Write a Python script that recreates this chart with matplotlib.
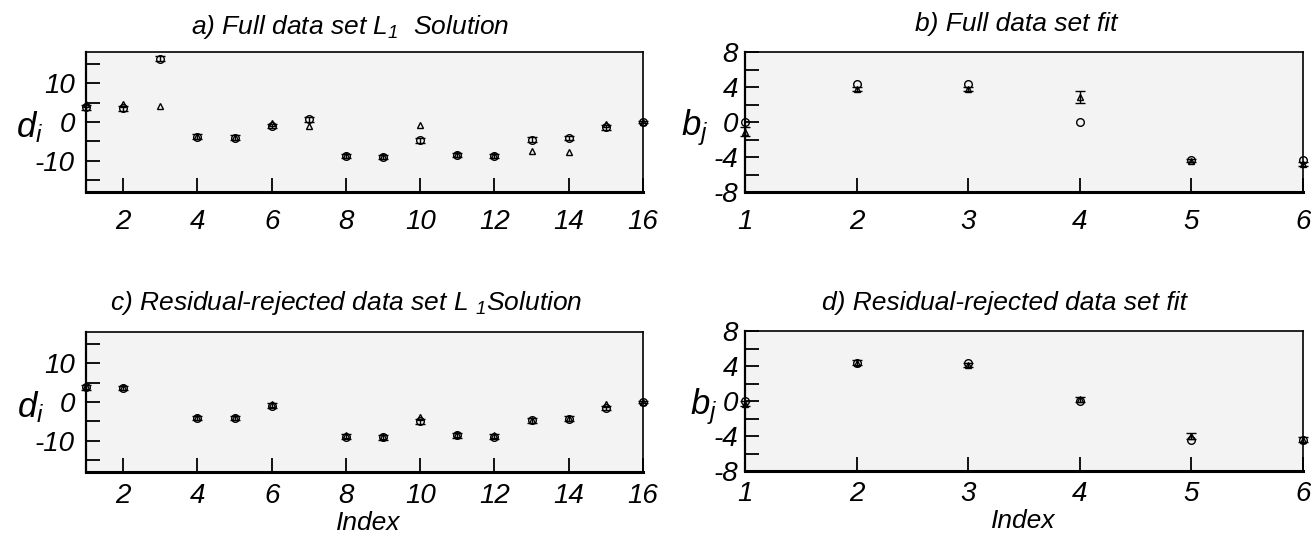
import matplotlib
matplotlib.use("Agg")
import matplotlib.pyplot as plt

# ---- data ----
idx_d = [1, 2, 3, 4, 5, 6, 7, 8, 9, 10, 11, 12, 13, 14, 15, 16]
a_circ = [3.8, 3.5, 16.3, -3.8, -4.0, -1.0, 0.7, -8.7, -9.0, -4.7, -8.5, -8.7, -4.5, -4.1, -1.4, 0.0]
a_circ_err = [0.6, 0.6, 0.6, 0.6, 0.6, 0.6, 0.6, 0.6, 0.6, 0.6, 0.6, 0.6, 0.6, 0.6, 0.6, 0.3]
a_tri = [4.6, 4.7, 4.0, -3.5, -3.8, -0.3, -1.0, -8.4, -8.8, -0.8, -8.2, -8.5, -7.4, -7.7, -0.6, 0.0]

idx_c = [1, 2, 4, 5, 6, 8, 9, 10, 11, 12, 13, 14, 15, 16]
c_circ = [3.8, 3.6, -4.1, -4.1, -0.9, -8.9, -9.1, -5.0, -8.6, -8.9, -4.7, -4.3, -1.5, 0.0]
c_circ_err = [0.6, 0.6, 0.6, 0.6, 0.6, 0.6, 0.6, 0.6, 0.6, 0.6, 0.6, 0.6, 0.6, 0.3]
c_tri = [4.2, 3.9, -3.8, -3.8, -0.6, -8.6, -8.8, -3.9, -8.2, -8.6, -4.5, -4.0, -0.5, 0.0]

idx_b = [1, 2, 3, 4, 5, 6]
b_circ = [0.0, 4.4, 4.4, 0.0, -4.3, -4.3]
b_tri = [-1.1, 3.8, 3.8, 2.9, -4.4, -4.8]
b_tri_err = [0.5, 0.2, 0.2, 0.7, 0.15, 0.2]

d_circ = [0.0, 4.3, 4.3, 0.0, -4.4, -4.4]
d_tri = [-0.3, 4.4, 4.1, 0.2, -4.0, -4.4]
d_tri_err = [0.3, 0.3, 0.25, 0.3, 0.3, 0.25]

plt.rcParams["font.family"] = ["Liberation Sans", "DejaVu Sans"]
plt.rcParams["font.style"] = "italic"
plt.rcParams["mathtext.fontset"] = "custom"
plt.rcParams["mathtext.it"] = "Liberation Sans:italic"
plt.rcParams["mathtext.rm"] = "Liberation Sans:italic"
plt.rcParams["mathtext.default"] = "it"
plt.rcParams["axes.unicode_minus"] = False

W, H = 1311, 537
fig = plt.figure(figsize=(W / 100, H / 100), dpi=100)


def px_axes(left, top, right, bottom):
    return fig.add_axes([left / W, 1 - bottom / H, (right - left) / W, (bottom - top) / H])


ax_a = px_axes(86, 52, 643, 192)
ax_b = px_axes(745, 52, 1303, 192)
ax_c = px_axes(86, 332, 643, 472)
ax_d = px_axes(745, 331, 1303, 471)

mk = dict(linestyle="none", color="black", mfc="none", mec="black", mew=1.0,
          elinewidth=1.0, capsize=3.5, capthick=1.2, clip_on=False, zorder=3)


def style(ax, xpad, ypad):
    ax.set_facecolor("#f3f3f3")
    for s in ["top", "right"]:
        ax.spines[s].set_linewidth(1.2)
    ax.spines["left"].set_linewidth(1.6)
    ax.spines["bottom"].set_linewidth(2.2)
    ax.tick_params(direction="in", length=10, width=1.3, labelsize=20,
                   top=False, right=False)
    ax.tick_params(axis="x", pad=xpad)
    ax.tick_params(axis="y", pad=ypad)


# a) full data set L1
ax_a.errorbar(idx_d, a_circ, yerr=a_circ_err, fmt="o", ms=5.5, **mk)
ax_a.errorbar(idx_d, a_tri, fmt="^", ms=4.5, **mk)
ax_a.set_xlim(1, 16)
ax_a.set_ylim(-18, 18)
ax_a.set_xticks([2, 4, 6, 8, 10, 12, 14, 16])
ax_a.set_yticks([-15, -10, -5, 0, 5, 10, 15])
ax_a.set_yticklabels(["", "-10", "", "0", "", "10", ""])
style(ax_a, 12.5, 8)
ax_a.text(0.474, 1.18, "a) Full data set L$_1$  Solution", transform=ax_a.transAxes,
          ha="center", va="center", fontsize=19)
ax_a.text(-0.102, 0.46, "$d_i$", transform=ax_a.transAxes, ha="center", va="center", fontsize=25)

# b) full data set fit
ax_b.errorbar(idx_b, b_circ, fmt="o", ms=5.5, **mk)
ax_b.errorbar(idx_b, b_tri, yerr=b_tri_err, fmt="^", ms=4.5, **mk)
ax_b.set_xlim(1, 6)
ax_b.set_ylim(-8, 8)
ax_b.set_xticks(idx_b)
ax_b.set_yticks([-8, -6, -4, -2, 0, 2, 4, 6, 8])
ax_b.set_yticklabels(["-8", "", "-4", "", "0", "", "4", "", "8"])
style(ax_b, 12.5, 5)
ax_b.text(0.486, 1.20, "b) Full data set fit", transform=ax_b.transAxes,
          ha="center", va="center", fontsize=19)
ax_b.text(-0.09, 0.46, "$b_j$", transform=ax_b.transAxes, ha="center", va="center", fontsize=25)

# c) residual-rejected L1
ax_c.errorbar(idx_c, c_circ, yerr=c_circ_err, fmt="o", ms=5.5, **mk)
ax_c.errorbar(idx_c, c_tri, fmt="^", ms=4.5, **mk)
ax_c.set_xlim(1, 16)
ax_c.set_ylim(-18, 18)
ax_c.set_xticks([2, 4, 6, 8, 10, 12, 14, 16])
ax_c.set_yticks([-15, -10, -5, 0, 5, 10, 15])
ax_c.set_yticklabels(["", "-10", "", "0", "", "10", ""])
style(ax_c, 8, 8)
ax_c.text(0.468, 1.207, "c) Residual-rejected data set L ${}_1$Solution", transform=ax_c.transAxes,
          ha="center", va="center", fontsize=19)
ax_c.text(-0.10, 0.46, "$d_i$", transform=ax_c.transAxes, ha="center", va="center", fontsize=25)
ax_c.text(0.506, -0.45, "Index", transform=ax_c.transAxes, ha="center", va="bottom", fontsize=19)

# d) residual-rejected fit
ax_d.errorbar(idx_b, d_circ, fmt="o", ms=5.5, **mk)
ax_d.errorbar(idx_b, d_tri, yerr=d_tri_err, fmt="^", ms=4.5, **mk)
ax_d.set_xlim(1, 6)
ax_d.set_ylim(-8, 8)
ax_d.set_xticks(idx_b)
ax_d.set_yticks([-8, -6, -4, -2, 0, 2, 4, 6, 8])
ax_d.set_yticklabels(["-8", "", "-4", "", "0", "", "4", "", "8"])
style(ax_d, 7, 5)
ax_d.text(0.465, 1.20, "d) Residual-rejected data set fit", transform=ax_d.transAxes,
          ha="center", va="center", fontsize=19)
ax_d.text(-0.075, 0.46, "$b_j$", transform=ax_d.transAxes, ha="center", va="center", fontsize=25)
ax_d.text(0.498, -0.36, "Index", transform=ax_d.transAxes, ha="center", va="center", fontsize=19)

fig.savefig("out.png", dpi=100, facecolor="white")
